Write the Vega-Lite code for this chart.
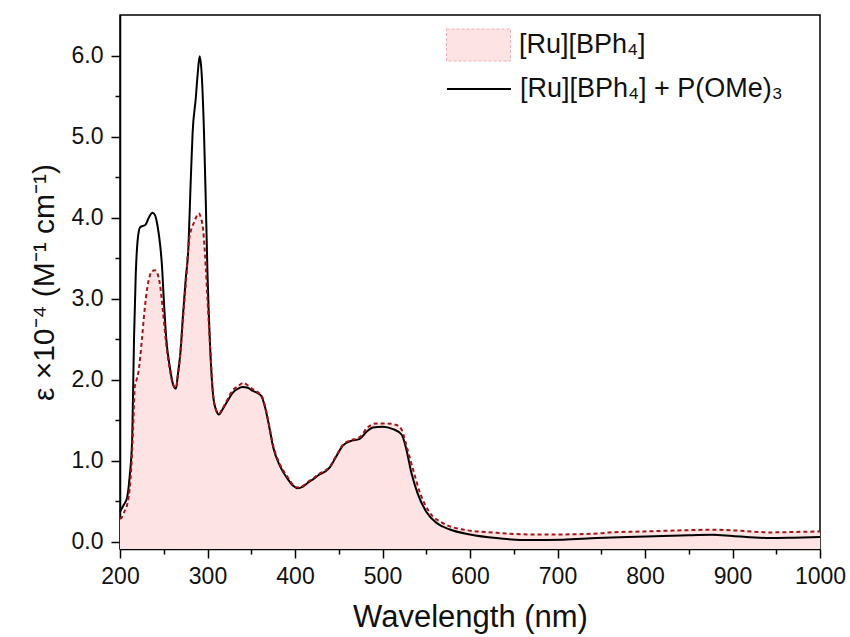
{
  "$schema": "https://vega.github.io/schema/vega-lite/v6.json",
  "width": 700,
  "height": 534,
  "autosize": {"type": "none"},
  "padding": {"left": 120, "top": 15, "right": 30, "bottom": 88},
  "background": "white",
  "config": {
    "font": "Liberation Sans",
    "view": {"stroke": "black", "strokeWidth": 1.5},
    "axis": {"grid": false, "domainColor": "black", "domainWidth": 1.5, "tickColor": "black", "tickWidth": 1.5, "labelColor": "#111", "titleColor": "#111", "labelFont": "Liberation Sans", "titleFont": "Liberation Sans", "titleFontWeight": "normal"}
  },
  "datasets": {
    "ru": [
      {"nm": 200, "v": 0.28}, {"nm": 202, "v": 0.3}, {"nm": 205, "v": 0.37}, {"nm": 208, "v": 0.45}, {"nm": 211, "v": 0.65},
      {"nm": 213, "v": 0.93}, {"nm": 215, "v": 1.4}, {"nm": 217, "v": 1.92}, {"nm": 219, "v": 2.0}, {"nm": 221, "v": 2.09},
      {"nm": 225, "v": 2.49}, {"nm": 228, "v": 2.85}, {"nm": 231, "v": 3.12}, {"nm": 234, "v": 3.28}, {"nm": 237, "v": 3.34},
      {"nm": 240, "v": 3.35}, {"nm": 242, "v": 3.33}, {"nm": 246, "v": 3.15}, {"nm": 249, "v": 2.85}, {"nm": 253, "v": 2.42},
      {"nm": 257, "v": 2.12}, {"nm": 261, "v": 1.93}, {"nm": 264, "v": 1.9}, {"nm": 266, "v": 2.05}, {"nm": 269, "v": 2.33},
      {"nm": 272, "v": 2.75}, {"nm": 275, "v": 3.15}, {"nm": 279, "v": 3.73}, {"nm": 285, "v": 3.95}, {"nm": 290, "v": 4.05},
      {"nm": 293, "v": 3.98}, {"nm": 295, "v": 3.85}, {"nm": 298, "v": 3.4}, {"nm": 300, "v": 2.99}, {"nm": 303, "v": 2.4},
      {"nm": 306.5, "v": 1.8}, {"nm": 310, "v": 1.62}, {"nm": 313, "v": 1.58}, {"nm": 317, "v": 1.64}, {"nm": 322, "v": 1.74},
      {"nm": 329, "v": 1.87}, {"nm": 335, "v": 1.92}, {"nm": 341, "v": 1.96}, {"nm": 346, "v": 1.93}, {"nm": 352, "v": 1.88},
      {"nm": 358, "v": 1.84}, {"nm": 362, "v": 1.8}, {"nm": 366, "v": 1.66}, {"nm": 370, "v": 1.46}, {"nm": 375, "v": 1.19},
      {"nm": 383, "v": 0.95}, {"nm": 392, "v": 0.79}, {"nm": 398, "v": 0.7}, {"nm": 403, "v": 0.67}, {"nm": 409, "v": 0.69},
      {"nm": 415, "v": 0.74}, {"nm": 422, "v": 0.79}, {"nm": 428, "v": 0.84}, {"nm": 435, "v": 0.88}, {"nm": 440, "v": 0.93},
      {"nm": 447, "v": 1.06}, {"nm": 455, "v": 1.2}, {"nm": 463, "v": 1.25}, {"nm": 474, "v": 1.29}, {"nm": 482, "v": 1.4},
      {"nm": 493, "v": 1.46}, {"nm": 505, "v": 1.46}, {"nm": 516, "v": 1.44}, {"nm": 522, "v": 1.38}, {"nm": 527, "v": 1.2},
      {"nm": 535, "v": 0.89}, {"nm": 543, "v": 0.6}, {"nm": 554, "v": 0.36}, {"nm": 569, "v": 0.23}, {"nm": 592, "v": 0.15},
      {"nm": 630, "v": 0.11}, {"nm": 669, "v": 0.09}, {"nm": 700, "v": 0.09}, {"nm": 745, "v": 0.1}, {"nm": 760, "v": 0.115},
      {"nm": 800, "v": 0.127}, {"nm": 840, "v": 0.14}, {"nm": 877, "v": 0.148}, {"nm": 910, "v": 0.135}, {"nm": 943, "v": 0.115},
      {"nm": 970, "v": 0.12}, {"nm": 1000, "v": 0.127}
    ],
    "rup": [
      {"nm": 200, "v": 0.37}, {"nm": 204, "v": 0.45}, {"nm": 208, "v": 0.54}, {"nm": 211, "v": 0.8}, {"nm": 214, "v": 1.3},
      {"nm": 216, "v": 2.5}, {"nm": 218, "v": 3.3}, {"nm": 220, "v": 3.7}, {"nm": 223, "v": 3.88}, {"nm": 229, "v": 3.91},
      {"nm": 233, "v": 4.0}, {"nm": 237, "v": 4.06}, {"nm": 240, "v": 4.03}, {"nm": 243, "v": 3.89}, {"nm": 246, "v": 3.65},
      {"nm": 248, "v": 3.4}, {"nm": 250, "v": 3.0}, {"nm": 253, "v": 2.49}, {"nm": 257, "v": 2.15}, {"nm": 261, "v": 1.93},
      {"nm": 264, "v": 1.89}, {"nm": 266, "v": 2.05}, {"nm": 269, "v": 2.33}, {"nm": 272, "v": 2.8}, {"nm": 275, "v": 3.23},
      {"nm": 278, "v": 3.6}, {"nm": 281, "v": 4.5}, {"nm": 283, "v": 5.05}, {"nm": 286.5, "v": 5.46}, {"nm": 289, "v": 5.8},
      {"nm": 291, "v": 5.99}, {"nm": 293, "v": 5.83}, {"nm": 296, "v": 5.05}, {"nm": 298, "v": 4.22}, {"nm": 300, "v": 3.3},
      {"nm": 303, "v": 2.41}, {"nm": 306.5, "v": 1.8}, {"nm": 310, "v": 1.62}, {"nm": 313, "v": 1.57}, {"nm": 317, "v": 1.63},
      {"nm": 322, "v": 1.72}, {"nm": 329, "v": 1.84}, {"nm": 335, "v": 1.89}, {"nm": 340, "v": 1.91}, {"nm": 346, "v": 1.9},
      {"nm": 352, "v": 1.86}, {"nm": 358, "v": 1.83}, {"nm": 362, "v": 1.79}, {"nm": 366, "v": 1.65}, {"nm": 370, "v": 1.45},
      {"nm": 375, "v": 1.17}, {"nm": 383, "v": 0.93}, {"nm": 392, "v": 0.77}, {"nm": 398, "v": 0.69}, {"nm": 403, "v": 0.66},
      {"nm": 409, "v": 0.68}, {"nm": 415, "v": 0.73}, {"nm": 422, "v": 0.78}, {"nm": 428, "v": 0.83}, {"nm": 435, "v": 0.87},
      {"nm": 440, "v": 0.92}, {"nm": 447, "v": 1.05}, {"nm": 455, "v": 1.19}, {"nm": 463, "v": 1.24}, {"nm": 474, "v": 1.27},
      {"nm": 482, "v": 1.36}, {"nm": 489, "v": 1.41}, {"nm": 500, "v": 1.42}, {"nm": 512, "v": 1.39}, {"nm": 522, "v": 1.32},
      {"nm": 527, "v": 1.15}, {"nm": 533, "v": 0.85}, {"nm": 540, "v": 0.6}, {"nm": 550, "v": 0.37}, {"nm": 562, "v": 0.23},
      {"nm": 577, "v": 0.15}, {"nm": 600, "v": 0.09}, {"nm": 630, "v": 0.045}, {"nm": 669, "v": 0.02}, {"nm": 706, "v": 0.025},
      {"nm": 745, "v": 0.045}, {"nm": 780, "v": 0.058}, {"nm": 820, "v": 0.07}, {"nm": 850, "v": 0.08}, {"nm": 877, "v": 0.085},
      {"nm": 900, "v": 0.07}, {"nm": 943, "v": 0.045}, {"nm": 970, "v": 0.05}, {"nm": 1000, "v": 0.058}
    ]
  },
  "encoding": {
    "x": {
      "field": "nm", "type": "quantitative",
      "scale": {"domain": [200, 1000], "nice": false, "zero": false},
      "axis": {
        "title": "Wavelength (nm)", "titleFontSize": 31, "titlePadding": 14,
        "values": [200,250,300,350,400,450,500,550,600,650,700,750,800,850,900,950,1000],
        "labelExpr": "datum.value % 100 === 0 ? format(datum.value, 'd') : ''",
        "labelFontSize": 23, "labelPadding": 7, "labelFlush": false, "labelOverlap": false,
        "tickSize": {"condition": {"test": "datum.value % 100 === 0", "value": 9}, "value": 5}
      }
    },
    "y": {
      "field": "v", "type": "quantitative",
      "scale": {"domain": [-0.09, 6.5], "nice": false, "zero": false},
      "axis": {
        "title": "ε ×10⁻⁴ (M⁻¹ cm⁻¹)", "titleFontSize": 30, "titlePadding": 12,
        "values": [0,0.5,1,1.5,2,2.5,3,3.5,4,4.5,5,5.5,6],
        "labelExpr": "datum.value % 1 === 0 ? format(datum.value, '.1f') : ''",
        "labelFontSize": 23, "labelPadding": 8, "labelOverlap": false,
        "tickSize": {"condition": {"test": "datum.value % 1 === 0", "value": 9}, "value": 5}
      }
    }
  },
  "layer": [
    {
      "data": {"name": "ru"},
      "transform": [{"calculate": "'[Ru][BPh₄]'", "as": "s1"}],
      "mark": {"type": "area", "interpolate": "monotone", "opacity": 1},
      "encoding": {
        "y2": {"datum": -0.09},
        "fill": {
          "field": "s1", "type": "nominal",
          "scale": {"range": ["#fde3e3"]},
          "legend": {
            "title": null, "orient": "none", "legendX": 326, "legendY": -2.5,
            "symbolType": "M-1,-0.5H1V0.5H-1Z", "symbolSize": 4096,
            "symbolStrokeColor": "#f4b0b0", "symbolStrokeWidth": 1, "symbolDash": [3, 2],
            "symbolOpacity": 1, "labelFontSize": 27, "labelFont": "Liberation Sans", "labelColor": "#111", "labelOffset": 8, "labelLimit": 400
          }
        }
      }
    },
    {
      "data": {"name": "rup"},
      "transform": [{"calculate": "'[Ru][BPh₄] + P(OMe)₃'", "as": "s2"}],
      "mark": {"type": "line", "interpolate": "monotone", "strokeWidth": 2},
      "encoding": {
        "stroke": {
          "field": "s2", "type": "nominal",
          "scale": {"range": ["#000000"]},
          "legend": {
            "title": null, "orient": "none", "legendX": 326, "legendY": 41,
            "symbolType": "stroke", "symbolSize": 4096, "symbolStrokeWidth": 2,
            "labelFontSize": 27, "labelFont": "Liberation Sans", "labelColor": "#111", "labelOffset": 8, "labelLimit": 400
          }
        }
      }
    },
    {
      "data": {"name": "ru"},
      "mark": {"type": "line", "interpolate": "monotone", "strokeWidth": 2, "color": "#a31515", "strokeDash": [4, 3]},
      "encoding": {}
    }
  ]
}
